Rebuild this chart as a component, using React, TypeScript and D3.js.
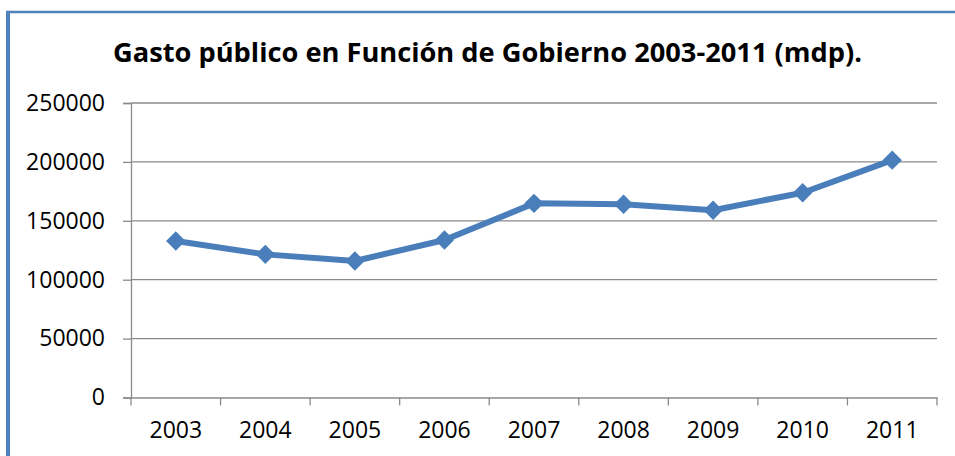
import React, { useEffect, useRef } from 'react';
import * as d3 from 'd3';

const years = ['2003', '2004', '2005', '2006', '2007', '2008', '2009', '2010', '2011'];
const gasto = [132800, 121500, 115900, 133700, 164800, 164000, 159000, 173800, 201500];
const yTicks = [0, 50000, 100000, 150000, 200000, 250000];

const W = 955;
const H = 456;
const BLUE = '#4a7ebb';
const GRID = '#8a8a8a';

export default function App() {
  const ref = useRef<SVGSVGElement>(null);

  useEffect(() => {
    const svg = d3.select(ref.current);
    svg.selectAll('*').remove();

    const margin = { top: 103, right: 18, bottom: 58.5, left: 131 };
    const width = W - margin.left - margin.right;
    const height = H - margin.top - margin.bottom;

    // frame
    svg.append('line').attr('x1', 6).attr('x2', W).attr('y1', 12).attr('y2', 12)
      .attr('stroke', '#4f81bd').attr('stroke-width', 2.5);
    svg.append('line').attr('x1', 8).attr('x2', 8).attr('y1', 11).attr('y2', H)
      .attr('stroke', '#4f81bd').attr('stroke-width', 4);

    svg.append('text')
      .attr('x', 487.5).attr('y', 62)
      .attr('text-anchor', 'middle')
      .attr('font-family', '"Open Sans", sans-serif')
      .attr('font-weight', 'bold')
      .attr('font-size', 27)
      .attr('textLength', 749)
      .attr('lengthAdjust', 'spacingAndGlyphs')
      .text('Gasto público en Función de Gobierno 2003-2011 (mdp).');

    const g = svg.append('g').attr('transform', `translate(${margin.left},${margin.top})`);

    const x = d3.scaleBand().domain(years).range([0, width]);
    const y = d3.scaleLinear().domain([0, 250000]).range([height, 0]);

    // gridlines
    g.selectAll('.grid').data(yTicks.slice(1)).enter().append('line')
      .attr('x1', 0).attr('x2', width)
      .attr('y1', d => y(d)).attr('y2', d => y(d))
      .attr('stroke', GRID).attr('stroke-width', 1.3);

    const yAxis = g.append('g')
      .call(d3.axisLeft(y).tickValues(yTicks).tickSize(8).tickPadding(18).tickFormat(d3.format('d')));
    yAxis.select('.domain').attr('stroke', GRID).attr('stroke-width', 1.3);
    yAxis.selectAll('.tick line').attr('stroke', GRID).attr('stroke-width', 1.3);
    yAxis.selectAll('.tick text')
      .attr('font-family', '"Open Sans", sans-serif').attr('font-size', 23).attr('fill', '#000');

    const xAxis = g.append('g').attr('transform', `translate(0,${height})`)
      .call(d3.axisBottom(x).tickSize(0).tickPadding(24));
    xAxis.select('.domain').attr('stroke', GRID).attr('stroke-width', 1.3);
    xAxis.selectAll('.tick text')
      .attr('font-family', '"Open Sans", sans-serif').attr('font-size', 23).attr('fill', '#000');

    // category boundary ticks
    g.selectAll('.xt').data(d3.range(years.length + 1)).enter().append('line')
      .attr('x1', i => i * x.step()).attr('x2', i => i * x.step())
      .attr('y1', height).attr('y2', height + 8)
      .attr('stroke', GRID).attr('stroke-width', 1.3);

    const cx = (d: string) => (x(d) as number) + x.bandwidth() / 2;

    const line = d3.line<number>()
      .x((_, i) => cx(years[i]))
      .y(d => y(d));

    g.append('path').datum(gasto)
      .attr('d', line)
      .attr('fill', 'none')
      .attr('stroke', BLUE)
      .attr('stroke-width', 6)
      .attr('stroke-linejoin', 'round');

    const diamond = d3.symbol().type(d3.symbolDiamond2).size(240);
    g.selectAll('.m').data(gasto).enter().append('path')
      .attr('d', diamond)
      .attr('transform', (d, i) => `translate(${cx(years[i])},${y(d)})`)
      .attr('fill', BLUE);
  }, []);

  return (
    <svg
      ref={ref}
      width={W}
      height={H}
      style={{ position: 'absolute', left: 0, top: 0, background: '#fff' }}
    />
  );
}
